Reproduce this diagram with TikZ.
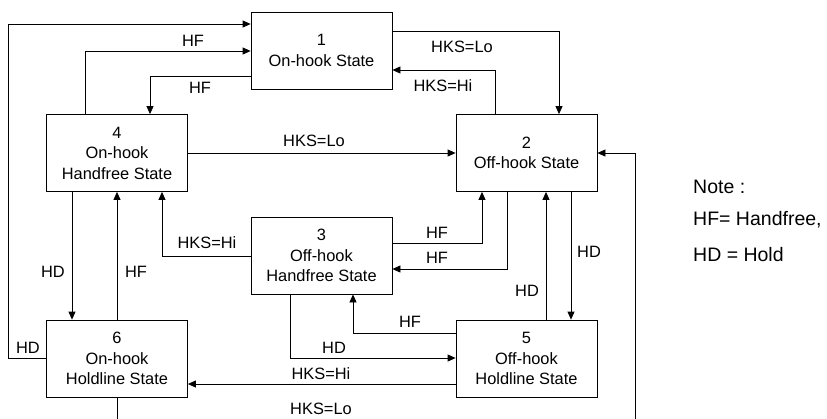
\documentclass[tikz,border=0pt]{standalone}
\usepackage{fontspec}
\setmainfont{Liberation Sans}
\usetikzlibrary{arrows.meta}
\tikzset{
  state/.style={draw, line width=0.8pt, minimum width=141pt, minimum height=77pt, inner sep=0pt, align=center, font=\fontsize{16.4}{20.5}\selectfont},
  arr/.style={line width=0.8pt, -{Triangle[length=8pt,width=7pt]}},
  lbl/.style={inner sep=0pt, font=\fontsize{16.4}{20}\selectfont},
  note/.style={inner sep=0pt, anchor=west, font=\fontsize{19.5}{24}\selectfont}
}
\begin{document}
\begin{tikzpicture}[x=1pt,y=-1pt]
\useasboundingbox (0,0) rectangle (827,418);
\clip (0,0) rectangle (827,418);
\node[state] (b1) at (321.5,50.5) {1\\On-hook State};
\node[state] (b4) at (117,153) {4\\On-hook\\Handfree State};
\node[state] (b2) at (526.5,153) {2\\Off-hook State};
\node[state] (b3) at (321.5,255.5) {3\\Off-hook\\Handfree State};
\node[state] (b6) at (117,358.5) {6\\On-hook\\Holdline State};
\node[state] (b5) at (526.5,358.5) {5\\Off-hook\\Holdline State};

\draw[arr] (b6.west) -| (8,24) -- (b1.west |- 0,24);
\node[lbl] (l1) at (28,348) {HD};
\draw[arr] (b4.north -| 85,0) |- (b1.west |- 0,51);
\node[lbl] (l2) at (193,41) {HF};
\draw[arr] (b1.west |- 0,76) -| (b4.north -| 150,0);
\node[lbl] (l3) at (200,88) {HF};
\draw[arr] (b4.east) -- (b2.west);
\node[lbl] (l4) at (314,141) {HKS=Lo};
\draw[arr] (b1.east |- 0,31) -| (b2.north -| 559,0);
\node[lbl] (l5) at (462,47) {HKS=Lo};
\draw[arr] (b2.north -| 495,0) |- (b1.east |- 0,70);
\node[lbl] (l6) at (443,86) {HKS=Hi};
\draw[arr] (b6.south) -- (117,430) -| (635,153) -- (b2.east);
\node[lbl] (l7) at (321,409) {HKS=Lo};
\draw[arr] (b4.south -| 72,0) -- (b6.north -| 72,0);
\node[lbl] (l8) at (53,272) {HD};
\draw[arr] (b6.north) -- (b4.south);
\node[lbl] (l9) at (136,272) {HF};
\draw[arr] (b3.west |- 0,256) -| (b4.south -| 162,0);
\node[lbl] (l10) at (207,243) {HKS=Hi};
\draw[arr] (b3.east |- 0,243) -| (b2.south -| 482,0);
\node[lbl] (l11) at (437,233) {HF};
\draw[arr] (b2.south -| 507,0) |- (b3.east |- 0,269);
\node[lbl] (l12) at (437,258) {HF};
\draw[arr] (b5.north -| 546,0) -- (b2.south -| 546,0);
\node[lbl] (l13) at (527,291) {HD};
\draw[arr] (b2.south -| 571,0) -- (b5.north -| 571,0);
\node[lbl] (l14) at (589,252) {HD};
\draw[arr] (b5.west |- 0,333) -| (b3.south -| 353,0);
\node[lbl] (l15) at (410,322) {HF};
\draw[arr] (b3.south -| 290,0) |- (b5.west |- 0,358);
\node[lbl] (l16) at (334,348) {HD};
\draw[arr] (b5.west |- 0,384) -- (b6.east |- 0,384);
\node[lbl] (l17) at (321,374) {HKS=Hi};

\node[note] (n1) at (693,187) {Note :};
\node[note] (n2) at (693,220) {HF= Handfree,};
\node[note] (n3) at (693,255) {HD = Hold};
\end{tikzpicture}
\end{document}
